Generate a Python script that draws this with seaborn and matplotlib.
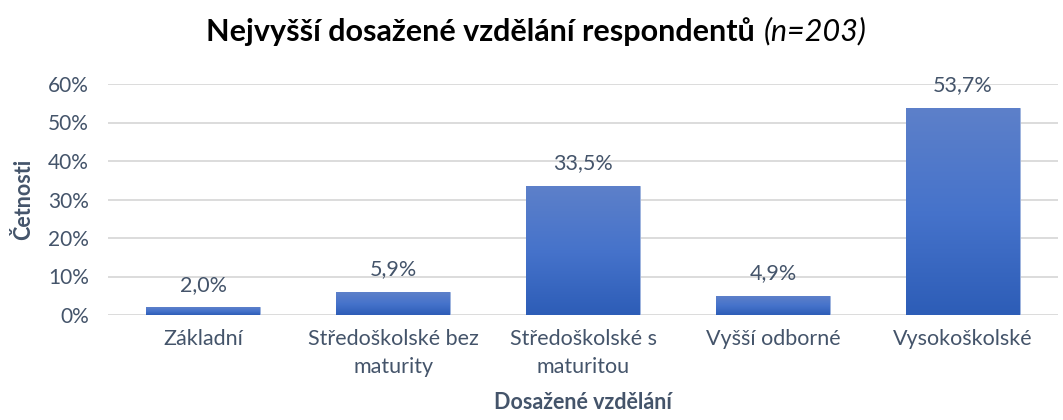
import seaborn as sns
import pandas as pd
import numpy as np
import matplotlib.pyplot as plt
from matplotlib.colors import LinearSegmentedColormap
from matplotlib.ticker import PercentFormatter

categories = ['Základní', 'Středoškolské bez\nmaturity', 'Středoškolské s\nmaturitou',
              'Vyšší odborné', 'Vysokoškolské']
shares = [2.0, 5.9, 33.5, 4.9, 53.7]
yticks = [0, 10, 20, 30, 40, 50, 60]

df = pd.DataFrame({'vzdelani': categories, 'podil': shares})

sns.set_style('white')
plt.rcParams['font.family'] = ['Lato', 'DejaVu Sans']
txt = '#44546A'

fig = plt.figure(figsize=(10.63, 4.2), dpi=100)
ax = fig.add_axes([0.102, 0.25, 0.893, 0.55])

sns.barplot(data=df, x='vzdelani', y='podil', color='#4472C4', width=0.6, ax=ax, zorder=2)

# gradient fill like the Excel chart
cmap = LinearSegmentedColormap.from_list('grad', ['#2D5DB7', '#4673CB', '#5D80C9'])
grad = np.linspace(0, 1, 256).reshape(-1, 1)
for bar in ax.patches:
    x0, y0 = bar.get_x(), bar.get_y()
    w, h = bar.get_width(), bar.get_height()
    im = ax.imshow(grad, cmap=cmap, origin='lower', aspect='auto',
                   extent=(x0, x0 + w, y0, y0 + h), zorder=3)
    im.set_clip_path(bar)
    bar.set_edgecolor('#9DB3E0')
    bar.set_linewidth(0.6)

for i, v in enumerate(shares):
    ax.text(i, v + 3.3, f'{v:.1f}%'.replace('.', ','), ha='center', va='bottom',
            fontsize=15.5, color=txt, zorder=4)

ax.set_xlim(-0.5, len(categories) - 0.5)
ax.set_ylim(0, 60)
ax.set_yticks(yticks)
ax.yaxis.set_major_formatter(PercentFormatter(decimals=0))
ax.grid(axis='y', color='#D9D9D9', linewidth=1.3, zorder=0)
ax.set_axisbelow(True)
sns.despine(ax=ax, left=True, bottom=True, top=True, right=True)
ax.tick_params(axis='both', length=0, labelcolor=txt)
ax.tick_params(axis='y', pad=14, labelsize=15)
ax.tick_params(axis='x', pad=10, labelsize=15.5)
for lab in ax.get_xticklabels():
    lab.set_linespacing(1.5)

ax.set_xlabel('Dosažené vzdělání', fontsize=15.5, fontweight='bold', color=txt, labelpad=11)
ax.set_ylabel('Četnosti', fontsize=15.5, fontweight='bold', color=txt, labelpad=10)

t1 = fig.text(0.455, 0.925, 'Nejvyšší dosažené vzdělání respondentů ', ha='center',
              va='center', fontsize=22, fontweight='bold', color='black')
fig.text(0, 0, '(n=203)', fontsize=22, fontstyle='italic', color='black',
         transform=t1.get_transform(), ha='left', va='center')
fig.canvas.draw()
bb = t1.get_window_extent()
fig.texts[-1].set_transform(None)
fig.texts[-1].set_position((bb.x1 + 2, (bb.y0 + bb.y1) / 2))

fig.savefig('out.png', dpi=100)
